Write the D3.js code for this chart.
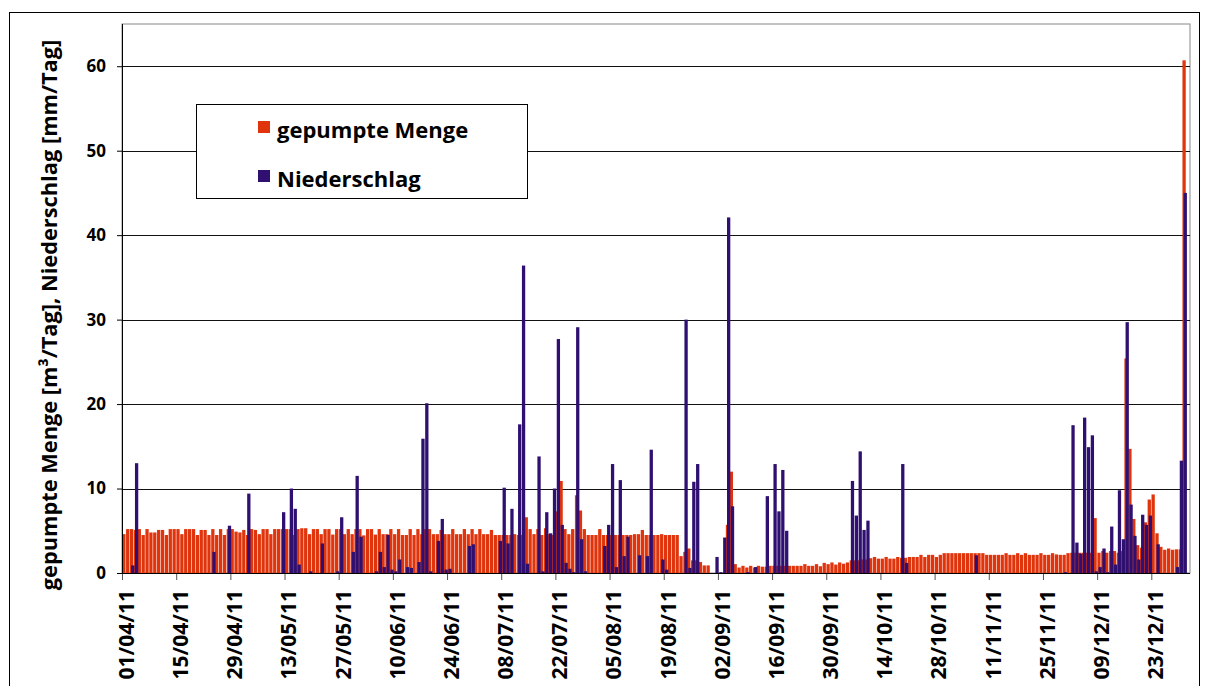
<!DOCTYPE html>
<html>
<head>
<meta charset="utf-8">
<script src="https://cdn.jsdelivr.net/npm/d3@7"></script>
<style>
  body { margin: 0; background: #fff; }
  text { font-family: "Open Sans", sans-serif; font-weight: 700; fill: #000; }
</style>
</head>
<body>
<div id="chart"></div>
<script>
// daily values, 01/04/11 .. 31/12/11, one array per month
let pumpApr = [4.6,5.2,5.2,5.1,5.2,4.5,5.2,4.8,4.8,5.1,
               5.1,4.5,5.2,5.2,5.2,4.6,5.2,5.2,5.2,4.5,
               5.1,5.1,4.5,5.2,4.5,5.2,4.5,5.2,5.2,4.9];
let pumpMay = [4.8,5.1,4.5,5.2,5.1,4.6,5.2,5.2,4.6,5.2,
               5.2,5.2,5.2,5.2,4.5,5.2,5.3,5.3,4.6,5.2,
               5.2,4.6,5.2,5.2,4.55,5.2,5.2,4.6,5.2,4.6,5.2];
let pumpJun = [5.2,4.45,5.2,5.2,4.55,5.2,4.6,4.6,5.2,4.6,
               5.2,4.5,4.5,5.2,4.5,5.2,4.6,5.2,5.2,4.6,
               4.6,5.1,4.6,4.6,5.2,4.6,4.6,5.2,4.6,5.2];
let pumpJul = [4.6,5.2,4.6,4.6,5.1,4.5,4.5,4.5,4.5,4.5,
               4.6,4.5,4.5,6.6,5.2,4.6,5.2,4.5,5.3,4.6,
               4.5,7.3,10.9,5.2,4.6,5.2,9.2,7.4,5.2,4.5,4.5];
let pumpAug = [4.5,5.2,4.5,4.5,4.5,4.5,4.5,4.5,4.5,4.5,
               4.6,4.6,5.1,4.5,4.5,4.5,4.5,4.6,4.5,4.5,
               4.5,4.5,2.0,2.5,2.9,1.5,1.5,1.3,0.9,0.9,0];
let pumpSep = [0,0,0,5.7,12.0,1.05,0.65,0.85,0.65,0.85,
               0.65,0.85,0.75,0.75,0.85,0.85,0.85,0.85,0.85,0.85,
               0.85,0.85,0.85,1.05,0.85,0.85,1.05,0.8,1.2,1.05];
let pumpOct = [1.25,1.0,1.25,1.1,1.25,1.5,1.5,1.5,1.6,1.6,
               1.75,1.9,1.7,1.7,1.9,1.7,1.7,1.9,1.8,1.8,
               1.9,1.9,1.9,2.15,1.9,2.15,2.15,1.9,2.15,2.35,2.35];
let pumpNov = [2.35,2.35,2.35,2.35,2.35,2.35,2.35,2.35,2.35,2.15,
               2.15,2.15,2.15,2.15,2.35,2.15,2.15,2.35,2.15,2.35,
               2.15,2.15,2.15,2.35,2.15,2.15,2.35,2.2,2.15,2.15];
let pumpDec = [2.35,2.4,2.4,2.4,2.4,2.4,2.4,6.5,2.4,2.6,
               2.4,2.6,2.6,2.4,2.6,25.4,14.7,6.4,3.3,3.0,
               6.0,8.7,9.3,4.7,3.1,2.75,2.9,2.75,2.8,2.8,60.7];

let rainApr = [0,0,0.9,13.0,0,0,0,0,0,0,
               0,0,0,0,0,0,0,0,0,0,
               0,0,0,2.5,0,0,0,5.6,0,0];
let rainMay = [0,0,9.4,0,0,0,0,0,0,0,
               0,7.2,0,10.0,7.6,1.0,0,0,0.2,0,
               0,3.5,0,0,0,0.2,6.6,0,0,2.5,11.5];
let rainJun = [4.3,0,0,0,0.2,2.5,0.7,4.5,0.4,0.2,
               1.6,0,0.7,0.6,0,1.3,15.9,20.1,0.2,0,
               3.8,6.4,0.4,0.5,0,0,0,0,3.2,3.4];
let rainJul = [0,0,0,0,0,0,3.8,10.1,3.5,7.6,
               0,17.6,36.4,1.1,0,0,13.8,0.2,7.2,4.7,
               10.0,27.7,5.7,1.2,0.5,0.1,29.1,4.0,0.2,0,0];
let rainAug = [0,0,3.2,5.7,12.9,0.7,11.0,2.0,4.3,0,
               0,2.1,0,2.0,14.6,0,0,1.6,0.4,0,
               0,0,0,30.0,0.6,10.8,12.9,0,0,0,0];
let rainSep = [1.9,0.1,4.2,42.1,7.9,0,0,0,0.1,0,
               0.7,0,0,9.1,0,12.9,7.3,12.2,5.0,0,
               0,0,0,0,0,0,0,0,0,0];
let rainOct = [0,0,0,0,0,10.9,6.8,14.4,5.1,6.2,
               0,0,0,0,0,0,0,0,12.9,1.2,
               0,0,0,0,0,0,0,0,0,0,0];
let rainNov = [0,0,0,0,0,0,2.1,0,0,0,
               0,0,0,0,0,0,0,0,0,0,
               0,0,0,0,0,0,0,0,0,0.1];
let rainDec = [0,17.5,3.6,2.3,18.4,14.9,16.3,0.2,0.7,2.9,
               0.1,5.5,1.0,9.8,4.0,29.7,8.1,4.4,1.6,6.9,
               5.7,6.8,0,3.4,0,0,0,0,0.7,13.3,45.0];

let tickLabels = ["01/04/11","15/04/11","29/04/11","13/05/11","27/05/11","10/06/11",
                  "24/06/11","08/07/11","22/07/11","05/08/11","19/08/11","02/09/11",
                  "16/09/11","30/09/11","14/10/11","28/10/11","11/11/11","25/11/11",
                  "09/12/11","23/12/11"];
let yTicks = [0,10,20,30,40,50,60];
let seriesNames = ["gepumpte Menge", "Niederschlag"];
let colors = ["#e0340c", "#2f1070"];

let pumped = [].concat(pumpApr,pumpMay,pumpJun,pumpJul,pumpAug,pumpSep,pumpOct,pumpNov,pumpDec);
let rain = [].concat(rainApr,rainMay,rainJun,rainJul,rainAug,rainSep,rainOct,rainNov,rainDec);

function makeGraph() {
    let w = 1209, h = 686;
    let svg = d3.select('#chart')
        .append('svg')
        .attr('width', w)
        .attr('height', h);

    let parse = d3.utcParse('%d/%m/%y');
    let start = new Date(Date.UTC(2011, 3, 1));
    let days = d3.utcDay.range(start, new Date(Date.UTC(2012, 0, 1)));
    let data = days.map((d, i) => ({date: d, pump: pumped[i], rain: rain[i]}));

    let left = 122, right = 1190, top = 24, bottom = 573;

    let xScale = d3.scaleUtc()
        .domain([start, new Date(Date.UTC(2012, 0, 2))])
        .range([left, right]);
    let dw = xScale(d3.utcDay.offset(start, 1)) - xScale(start);

    let yScale = d3.scaleLinear()
        .domain([0, 65])
        .range([bottom, top]);

    // outer frame
    svg.append('rect')
        .attr('x', 9.5).attr('y', 12.5)
        .attr('width', 1190).attr('height', 700)
        .attr('fill', 'none').attr('stroke', '#000');

    // plot area
    svg.append('rect')
        .attr('x', left).attr('y', top)
        .attr('width', right - left).attr('height', bottom - top)
        .attr('fill', 'none').attr('stroke', '#888');

    svg.append('g')
        .selectAll('line')
        .data(yTicks.filter(t => t > 0))
        .enter()
        .append('line')
        .attr('x1', left).attr('x2', right)
        .attr('y1', d => Math.round(yScale(d)) + 0.5)
        .attr('y2', d => Math.round(yScale(d)) + 0.5)
        .attr('stroke', '#111');

    svg.append('g')
        .selectAll('rect')
        .data(data)
        .enter()
        .append('rect')
        .attr('x', d => xScale(d.date) + 0.05 * dw)
        .attr('width', 0.85 * dw)
        .attr('y', d => yScale(d.pump))
        .attr('height', d => yScale(0) - yScale(d.pump))
        .attr('fill', colors[0]);

    svg.append('g')
        .selectAll('rect')
        .data(data.filter(d => d.rain > 0))
        .enter()
        .append('rect')
        .attr('x', d => xScale(d.date) + 0.35 * dw)
        .attr('width', 0.85 * dw)
        .attr('y', d => yScale(d.rain))
        .attr('height', d => yScale(0) - yScale(d.rain))
        .attr('fill', colors[1]);

    // axes
    let yAxis = d3.axisLeft(yScale)
        .tickValues(yTicks)
        .tickSize(5)
        .tickPadding(11);
    let yAxisGroup = svg.append('g')
        .attr('transform', `translate(${left}, 0)`)
        .call(yAxis);
    yAxisGroup.select('.domain').remove();
    yAxisGroup.selectAll('text').style('font-size', '17px');
    svg.append('line')
        .attr('x1', left + 0.5).attr('x2', left + 0.5)
        .attr('y1', top).attr('y2', bottom)
        .attr('stroke', '#000');

    let xAxis = d3.axisBottom(xScale)
        .tickValues(tickLabels.map(parse))
        .tickFormat(d3.utcFormat('%d/%m/%y'))
        .tickSize(7);
    let xAxisGroup = svg.append('g')
        .attr('transform', `translate(0, ${bottom})`)
        .call(xAxis);
    xAxisGroup.select('.domain').remove();
    xAxisGroup.selectAll('.tick line').attr('stroke', '#555');
    xAxisGroup.selectAll('text')
        .style('font-size', '21px')
        .attr('transform', 'rotate(-90)')
        .attr('text-anchor', 'end')
        .attr('x', -17)
        .attr('y', 4)
        .attr('dy', '0.35em');
    svg.append('line')
        .attr('x1', left).attr('x2', right)
        .attr('y1', bottom + 0.5).attr('y2', bottom + 0.5)
        .attr('stroke', '#000');

    svg.append('text')
        .attr('transform', 'translate(57, 315) rotate(-90)')
        .attr('text-anchor', 'middle')
        .style('font-size', '21.8px')
        .text('gepumpte Menge [m³/Tag], Niederschlag [mm/Tag]');

    // legend
    let legend = svg.append('g');
    legend.append('rect')
        .attr('x', 196.5).attr('y', 104.5)
        .attr('width', 331).attr('height', 94)
        .attr('fill', '#fff').attr('stroke', '#000');
    seriesNames.forEach((name, i) => {
        legend.append('rect')
            .attr('x', 258).attr('y', 121 + i * 49)
            .attr('width', 12).attr('height', 12)
            .attr('fill', colors[i]);
        legend.append('text')
            .attr('x', 277).attr('y', 138 + i * 49)
            .style('font-size', '22px')
            .text(name);
    });
}

window.onload = () => {
    makeGraph();
}
</script>
</body>
</html>
